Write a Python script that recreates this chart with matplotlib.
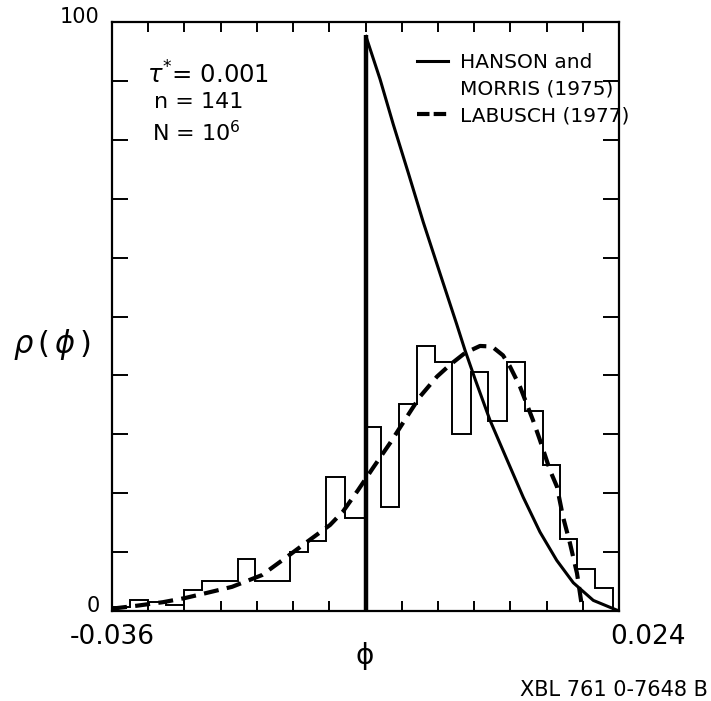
import numpy as np
import matplotlib
matplotlib.use("Agg")
import matplotlib.pyplot as plt
import matplotlib.transforms as mtransforms
from matplotlib.lines import Line2D

plt.rcParams['font.family'] = ['DejaVu Sans']
plt.rcParams['mathtext.fontset'] = 'dejavusans'

# ---------------- data ----------------
# histogram bin edges (phi) and heights rho(phi)
hist_edges = [-0.03600, -0.03387, -0.03174, -0.02961, -0.02748, -0.02535, -0.02322,
              -0.02109, -0.01908, -0.01695, -0.01494, -0.01281, -0.01068, -0.00843,
              -0.00606, -0.00417, -0.00204, 0.00009, 0.00222, 0.00424, 0.00649,
              0.00850, 0.01075, 0.01288, 0.01501, 0.01702, 0.01903, 0.02116, 0.02329]
hist_values = [0.7, 1.8, 1.5, 1.0, 3.6, 5.1, 5.1, 8.8, 5.1, 5.1, 10.0, 11.8, 22.7, 15.8,
               31.3, 17.7, 35.1, 45.0, 42.3, 30.0, 40.5, 32.3, 42.3, 34.0, 24.8, 12.3, 7.1, 3.9]

# Hanson and Morris (1975)
hm_phi = [-0.00600, -0.00428, -0.00271, -0.00094, 0.00084, 0.00282, 0.00479, 0.00577,
          0.00696, 0.00873, 0.01071, 0.01267, 0.01465, 0.01663, 0.01859, 0.02096,
          0.02332, 0.02400]
hm_rho = [97.8, 90.3, 82.6, 74.4, 66.0, 57.3, 48.7, 44.3, 39.4, 32.4, 25.8, 19.3, 13.4,
          8.6, 4.8, 1.8, 0.4, 0.0]

# Labusch (1977)
lab_phi = [-0.03600, -0.03304, -0.02996, -0.02736, -0.02499, -0.02180, -0.01825,
           -0.01529, -0.01257, -0.01020, -0.00866, -0.00689, -0.00511, -0.00310,
           -0.00109, 0.00045, 0.00246, 0.00400, 0.00577, 0.00755, 0.00897, 0.01027,
           0.01110, 0.01228, 0.01382, 0.01465, 0.01583, 0.01666, 0.01737, 0.01820,
           0.01903, 0.01962]
lab_rho = [0.4, 0.9, 1.5, 2.2, 3.0, 4.1, 6.1, 9.2, 12.1, 14.6, 16.9, 20.5, 24.3, 28.5,
           33.0, 36.4, 39.8, 41.8, 43.8, 45.0, 44.9, 43.4, 41.5, 38.1, 32.4, 29.0, 23.9,
           21.1, 16.0, 11.5, 6.4, 0.7]

x_min, x_max = -0.036, 0.024
y_min, y_max = 0, 100
x_tick_labels = ["-0.036", "0.024"]
y_tick_labels = ["0", "100"]
legend_labels = ["HANSON and", "MORRIS (1975)", "LABUSCH (1977)"]
params_text = [r"$\tau^{*}$= 0.001", "n = 141", r"N = 10$^{6}$"]

# ---------------- figure ----------------
fig = plt.figure(figsize=(7.11, 7.01), dpi=100)
ax = fig.add_axes([112/711, 1-611/701, (619-112)/711, (611-22)/701])

ax.stairs(hist_values, hist_edges, baseline=0, fill=False, color='black', lw=1.4)
ax.vlines(hm_phi[0], 0, hm_rho[0], color='black', lw=3.2)
ax.plot(hm_phi, hm_rho, color='black', lw=2.2, solid_capstyle='butt')
ax.plot(lab_phi, lab_rho, color='black', lw=3.0, dashes=(3.6, 2.0))

ax.set_xlim(x_min, x_max)
ax.set_ylim(y_min, y_max)

xt = np.linspace(x_min, x_max, 15)
ax.set_xticks(xt)
ax.set_xticklabels([x_tick_labels[0]] + [""] * 13 + [x_tick_labels[1]])
yt = np.arange(0, 101, 10)
ax.set_yticks(yt)
ax.set_yticklabels([y_tick_labels[0]] + [""] * 9 + [y_tick_labels[1]])

ax.tick_params(axis='x', direction='in', length=7, width=1.4, top=True, bottom=True,
               labelsize=19, pad=9)
ax.tick_params(axis='y', direction='in', length=11.5, width=1.4, left=True, right=True,
               labelsize=15, pad=9)
for s in ax.spines.values():
    s.set_linewidth(1.6)

# shift end tick labels like the reference
labs = ax.get_xticklabels()
labs[-1].set_transform(labs[-1].get_transform() +
                       mtransforms.ScaledTranslation(29/100, 0, fig.dpi_scale_trans))
for lab in ax.get_yticklabels():
    lab.set_transform(lab.get_transform() +
                      mtransforms.ScaledTranslation(0, 7/100, fig.dpi_scale_trans))

ax.set_xlabel("\u03d5", fontsize=20)
ax.xaxis.set_label_coords(0.499, -0.076)
ax.xaxis.label.set_va('center')
ax.set_ylabel(r"$\rho\,(\,\phi\,)$", fontsize=22, rotation=0, va='center', ha='center')
ax.yaxis.set_label_coords(-0.118, 0.452)

# parameter text
ys = [0.910, 0.864, 0.813]
xs = [0.069, 0.083, 0.078]
sizes = [17.5, 16, 16]
for t, xx, yy, fs in zip(params_text, xs, ys, sizes):
    ax.text(xx, yy, t, transform=ax.transAxes, fontsize=fs, va='center', ha='left')

# legend
handles = [Line2D([], [], color='black', lw=2.2),
           Line2D([], [], color='none', lw=0),
           Line2D([], [], color='black', lw=3.0, dashes=(3.0, 1.0))]
leg = ax.legend(handles, legend_labels, loc='upper left', bbox_to_anchor=(0.601, 0.947),
                frameon=False, fontsize=14.5, handlelength=1.55, handletextpad=0.6,
                labelspacing=0.38, borderpad=0, borderaxespad=0)

fig.text(0.996, 1-690/701, "XBL 761 0-7648 B", fontsize=15, ha='right', va='center')

fig.savefig("out.png", dpi=100)
